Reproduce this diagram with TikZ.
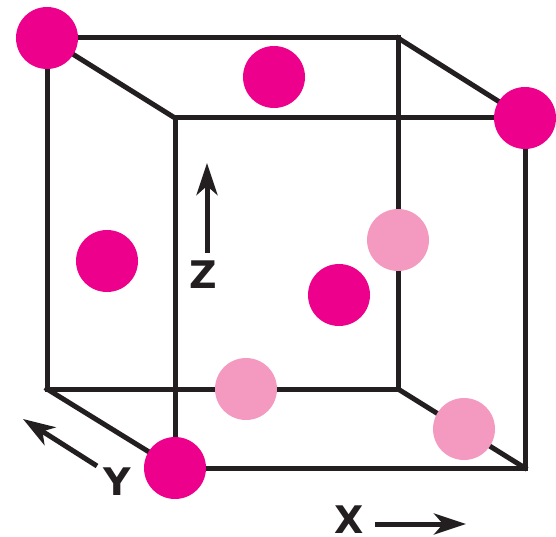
\documentclass[tikz,border=0pt]{standalone}
\usepackage{fontspec}
\setmainfont{Liberation Sans}
\newfontfamily\axfont{DejaVu Sans}
\usetikzlibrary{arrows.meta}
\definecolor{ink}{HTML}{231F20}
\definecolor{deep}{HTML}{EC008C}
\definecolor{pale}{HTML}{F49AC1}
\tikzset{
  edge/.style={draw=ink,line width=5pt,line cap=rect,line join=miter},
  axis/.style={draw=ink,line width=5pt,-{Stealth[length=32pt,width=21pt,inset=9pt]}},
  atomdeep/.style={circle,fill=deep,minimum size=62pt,inner sep=0pt,draw=none},
  atompale/.style={circle,fill=pale,minimum size=62pt,inner sep=0pt,draw=none},
  axlabel/.style={font=\axfont\fontsize{38pt}{38pt}\selectfont\bfseries,text=ink,inner sep=0pt,anchor=base}
}
\begin{document}
\begin{tikzpicture}[x=1pt,y=-1pt]
\useasboundingbox (0,0) rectangle (556,537);
% cube corners
\coordinate (btl) at (47,38);
\coordinate (btr) at (398,38);
\coordinate (bbl) at (47,389);
\coordinate (bbr) at (398,389);
\coordinate (ftl) at (175,118);
\coordinate (ftr) at (525,118);
\coordinate (fbl) at (175,468);
\coordinate (fbr) at (525,468);
% back face
\draw[edge] (btl) -- (btr) -- (bbr) -- (bbl) -- cycle;
% front face
\draw[edge] (ftl) -- (ftr) -- (fbr) -- (fbl) -- cycle;
% depth edges
\draw[edge] (btl) -- (ftl);
\draw[edge] (btr) -- (ftr);
\draw[edge] (bbl) -- (fbl);
\draw[edge] (bbr) -- (fbr);
% atoms
\node[atomdeep] (a1) at (btl) {};
\node[atomdeep] (a2) at (ftr) {};
\node[atomdeep] (a3) at (fbl) {};
\node[atomdeep] (a4) at (274,77) {};
\node[atomdeep] (a5) at (107,261) {};
\node[atomdeep] (a6) at (339,295) {};
\node[atompale] (a7) at (398,240) {};
\node[atompale] (a8) at (246,389) {};
\node[atompale] (a9) at (464,429) {};
% axes
\node[axlabel] (lz) at (203,288) {Z};
\node[axlabel] (ly) at (117,495) {Y};
\node[axlabel] (lx) at (349,533) {X};
\coordinate (zs) at (207,253);
\coordinate (ze) at (207,163);
\coordinate (ys) at (97,466);
\coordinate (ye) at (23,419);
\coordinate (xs) at (375,524);
\coordinate (xe) at (466,524);
\draw[axis] (zs) -- (ze);
\draw[axis] (ys) -- (ye);
\draw[axis] (xs) -- (xe);
\end{tikzpicture}
\end{document}
